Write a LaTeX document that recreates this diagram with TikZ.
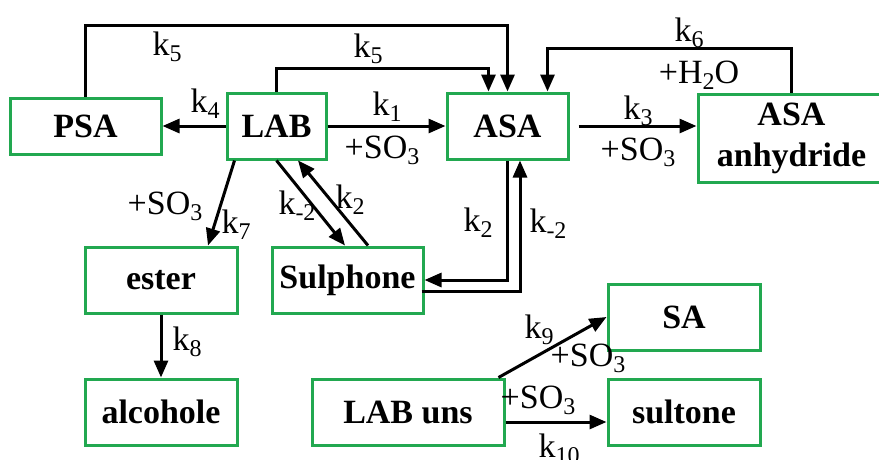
\documentclass[tikz,border=0pt]{standalone}
\usepackage{fontspec}
\setmainfont{Liberation Serif}
\usetikzlibrary{arrows.meta,calc}
\definecolor{boxgreen}{RGB}{34,168,80}
\newcommand\ksub[1]{\raisebox{-0.17em}{\fontsize{24}{24}\selectfont #1}}
\begin{document}
\begin{tikzpicture}[x=1pt,y=-1pt,
  box/.style={draw=boxgreen,line width=3pt,inner sep=0pt,minimum height=66pt,
    font=\fontsize{34}{36}\selectfont\bfseries,align=center},
  arr/.style={line width=3pt,-{Triangle[length=17pt,width=14pt]}},
  lbl/.style={inner sep=0pt,font=\fontsize{34}{34}\selectfont}]
\fill[white] (0,0) rectangle (879,459);
\useasboundingbox (0,0) rectangle (879,459);
\begin{scope}
\clip (0,0) rectangle (879,459);
% boxes
\node[box,minimum width=151pt,minimum height=56pt] (PSA) at (85.5,126) {PSA};
\node[box,minimum width=99pt] (LAB) at (276.5,126) {LAB};
\node[box,minimum width=121pt] (ASA) at (507.5,126) {ASA};
\node[box,minimum width=187pt,minimum height=88pt] (anh) at (791.5,138) {ASA\\[5pt]anhydride};
\node[box,minimum width=152pt] (ester) at (161,280) {ester};
\node[box,minimum width=151pt] (sul) at (347.5,280) {Sulphone};
\node[box,minimum width=152pt] (alc) at (161,412) {alcohole};
\node[box,minimum width=192pt] (uns) at (408,412) {LAB uns};
\node[box,minimum width=152pt] (SA) at (684,317) {SA};
\node[box,minimum width=152pt] (sult) at (684,412) {sultone};
% connectors
\draw[arr] (PSA.north) -- ++(0,-71) -| (ASA.north);
\draw[arr] (LAB.north) -- ++(0,-23) -| ($(ASA.north)+(-19,0)$);
\draw[arr] (anh.north) -- ++(0,-44) -| ($(ASA.north)+(40,0)$);
\draw[arr] (LAB.west) -- (PSA.east);
\draw[arr] (LAB.east) -- (ASA.west);
\draw[arr] ($(ASA.east)+(9,0)$) -- (ASA.east -| anh.west);
\draw[arr] ($(LAB.south)+(-42,0)$) -- ($(ester.north)+(47,0)$);
\draw[arr] (LAB.south) -- ($(sul.north)+(-2.5,0)$);
\draw[arr] ($(sul.north)+(20.5,0)$) -- ($(LAB.south)+(21.5,0)$);
\draw[arr] (ASA.south) |- (sul.east);
\draw[arr] ($(sul.east)+(-3,11)$) -| ($(ASA.south)+(12.5,0)$);
\draw[arr] (ester.south) -- (alc.north);
\draw[arr] ($(uns.north east)+(-7,0)$) -- (SA.west);
\draw[arr] ($(uns.east)+(0,10)$) -- ($(sult.west)+(0,10)$);
% labels
\node[lbl] (l1) at (167,47) {k\ksub{5}};
\node[lbl] (l2) at (368,49) {k\ksub{5}};
\node[lbl] (l3) at (205,104) {k\ksub{4}};
\node[lbl] (l4) at (387,107) {k\ksub{1}};
\node[lbl] (l5) at (382,150) {+SO\ksub{3}};
\node[lbl] (l6) at (689,33) {k\ksub{6}};
\node[lbl] (l7) at (699,75) {+H\ksub{2}O};
\node[lbl] (l8) at (638,111) {k\ksub{3}};
\node[lbl] (l9) at (638,152) {+SO\ksub{3}};
\node[lbl] (l10) at (165,206) {+SO\ksub{3}};
\node[lbl] (l11) at (236,225) {k\ksub{7}};
\node[lbl] (l12) at (297,206) {k\ksub{-2}};
\node[lbl] (l13) at (350,200) {k\ksub{2}};
\node[lbl] (l14) at (478,223) {k\ksub{2}};
\node[lbl] (l15) at (548,224) {k\ksub{-2}};
\node[lbl] (l16) at (187,342) {k\ksub{8}};
\node[lbl] (l17) at (539,330) {k\ksub{9}};
\node[lbl] (l18) at (588,358) {+SO\ksub{3}};
\node[lbl] (l19) at (538,400) {+SO\ksub{3}};
\node[lbl] (l20) at (559,449) {k\ksub{10}};
\end{scope}
\end{tikzpicture}
\end{document}
